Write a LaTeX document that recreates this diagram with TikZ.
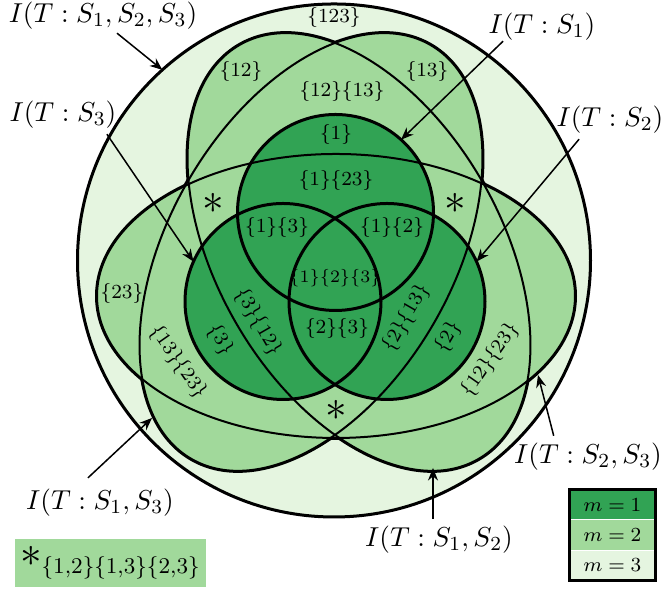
\documentclass[tikz,border=0pt]{standalone}
\usepackage{tikz}
\usepackage{xcolor}
\usetikzlibrary{positioning,calc,arrows.meta}
\definecolor{mone}{HTML}{31A354}
\definecolor{mtwo}{HTML}{A1D99B}
\definecolor{mthree}{HTML}{E5F5E0}

\begin{document}
\begin{tikzpicture}[x=0.4pt,y=0.4pt,
  bound/.style={line width=1.2pt},
  inner/.style={line width=0.8pt},
  lbl/.style={font=\fontsize{11}{13}\selectfont,inner sep=0pt},
  reg/.style={font=\fontsize{8.5}{10}\selectfont,inner sep=0pt},
  star/.style={font=\fontsize{17}{19}\selectfont,inner sep=0pt},
  pointer/.style={line width=0.6pt,-{Stealth[length=5pt,width=4pt]}},
  legrow/.style={minimum width=34pt,minimum height=11.7pt,inner sep=0pt,
    font=\fontsize{8.5}{10}\selectfont}]
  \useasboundingbox (0,0) rectangle (661,590);

  % centres
  \coordinate (o) at (334,329.5);
  \coordinate (e23) at (336,294);
  \coordinate (e13) at (311,338);
  \coordinate (e12) at (359,338);
  \coordinate (o1) at (335.5,377.5);
  \coordinate (o2) at (387,288.5);
  \coordinate (o3) at (283,288.5);

  % m=3
  \draw[bound,fill=mthree] (o) circle (256.5);

  % m=2, outer edge of the union first
  \draw[line width=1.6pt] (e23) ellipse [x radius=239,y radius=142];
  \draw[line width=1.6pt,rotate around={60:(e13)}] (e13) ellipse [x radius=239,y radius=142];
  \draw[line width=1.6pt,rotate around={120:(e12)}] (e12) ellipse [x radius=239,y radius=142];
  \fill[mtwo] (e23) ellipse [x radius=239,y radius=142];
  \fill[mtwo,rotate around={60:(e13)}] (e13) ellipse [x radius=239,y radius=142];
  \fill[mtwo,rotate around={120:(e12)}] (e12) ellipse [x radius=239,y radius=142];

  % m=1
  \foreach \c in {o1,o2,o3}
    \fill[mone] (\c) circle (98);

  % inner edges
  \draw[inner] (e23) ellipse [x radius=239,y radius=142];
  \draw[inner,rotate around={60:(e13)}] (e13) ellipse [x radius=239,y radius=142];
  \draw[inner,rotate around={120:(e12)}] (e12) ellipse [x radius=239,y radius=142];
  \foreach \c in {o1,o2,o3}
    \draw[bound] (\c) circle (98);

  % regions
  \node[reg] (r123) at (334,572) {$\{123\}$};
  \node[reg] (r12) at (241,518) {$\{12\}$};
  \node[reg] (r13) at (427,518) {$\{13\}$};
  \node[reg] (r12x13) at (342,498) {$\{12\}\{13\}$};
  \node[reg] (r1) at (336,455) {$\{1\}$};
  \node[reg] (r1x23) at (336,409) {$\{1\}\{23\}$};
  \node[reg] (r1x3) at (277,362) {$\{1\}\{3\}$};
  \node[reg] (r1x2) at (392,362) {$\{1\}\{2\}$};
  \node[reg,font=\fontsize{6.6}{8}\selectfont] (r1x2x3) at (335,312) {$\{1\}\{2\}\{3\}$};
  \node[reg] (r2x3) at (337,261) {$\{2\}\{3\}$};
  \node[reg,rotate=-60] (r3x12) at (258,268) {$\{3\}\{12\}$};
  \node[reg,rotate=-60] (r3) at (220,250) {$\{3\}$};
  \node[reg,rotate=60] (r2x13) at (406,272) {$\{2\}\{13\}$};
  \node[reg,rotate=60] (r2) at (448,253) {$\{2\}$};
  \node[reg] (r23) at (122,296) {$\{23\}$};
  \node[reg,rotate=-55] (r13x23) at (178,228) {$\{13\}\{23\}$};
  \node[reg,rotate=55] (r12x23) at (490,230) {$\{12\}\{23\}$};

  % pairwise only
  \node[star] (s1) at (213,387) {$*$};
  \node[star] (s2) at (455,387) {$*$};
  \node[star] (s3) at (336,180) {$*$};

  % information labels
  \node[lbl] (l123) at (103,574) {$I(T:S_1,S_2,S_3)$};
  \node[lbl] (l3) at (63,475) {$I(T:S_3)$};
  \node[lbl] (l1) at (542,563) {$I(T:S_1)$};
  \node[lbl] (l2) at (610,470) {$I(T:S_2)$};
  \node[lbl] (l23) at (588,133) {$I(T:S_2,S_3)$};
  \node[lbl] (l12) at (439,50) {$I(T:S_1,S_2)$};
  \node[lbl] (l13) at (100,87) {$I(T:S_1,S_3)$};

  \coordinate (t23) at (538,215);
  \coordinate (t12) at (433,122);
  \coordinate (t13) at (152,172);

  \draw[pointer] ($(l123.south)+(14,-3)$) -- ($(o)+(132:256.5)$);
  \draw[pointer] ($(l3.south east)+(-10,-5)$) -- ($(o3)+(156:98)$);
  \draw[pointer] ($(l1.south west)+(15,0)$) -- ($(o1)+(48:98)$);
  \draw[pointer] ($(l2.south west)+(23,-5)$) -- ($(o2)+(24:98)$);
  \draw[pointer] ($(l23.north west)+(40,7)$) -- (t23);
  \draw[pointer] ($(l12.north)+(-6,7)$) -- (t12);
  \draw[pointer] ($(l13.north)+(-12,11)$) -- (t13);

  % legend
  \node[legrow,fill=mone] (leg1) at (612.5,85.3) {$m=1$};
  \node[legrow,fill=mtwo,below=0pt of leg1] (leg2) {$m=2$};
  \node[legrow,fill=mthree,below=0pt of leg2] (leg3) {$m=3$};
  \draw[bound] (leg1.north west) rectangle (leg3.south east);

  \node[fill=mtwo,minimum width=76.4pt,minimum height=19.2pt,inner sep=0pt,
    font=\fontsize{12.5}{15}\selectfont] (note) at (110.5,27)
    {$\mbox{\fontsize{18}{20}\selectfont$*$}_{\{1,2\}\{1,3\}\{2,3\}}$};
\end{tikzpicture}
\end{document}
